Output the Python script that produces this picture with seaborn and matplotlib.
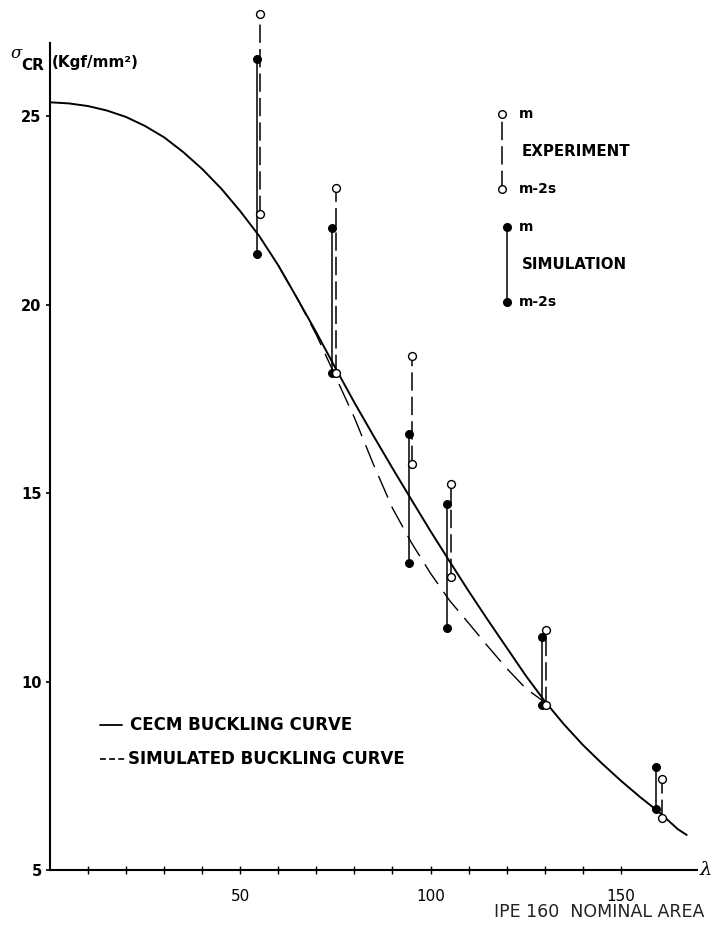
import numpy as np
import pandas as pd
import matplotlib
matplotlib.use("Agg")
import matplotlib.pyplot as plt
import seaborn as sns

# ---------------- data ----------------
# CECM buckling curve
cecm_lambda = [0, 5, 10, 15, 20, 25, 30, 35, 40, 45, 50, 55, 60, 65, 70, 75, 80,
               85, 90, 95, 100, 105, 110, 115, 120, 125, 130, 135, 140, 145, 150,
               155, 160, 165, 167.3]
cecm_sigma = [25.37, 25.34, 25.27, 25.15, 24.98, 24.74, 24.44, 24.05, 23.60, 23.08,
              22.48, 21.82, 21.04, 20.16, 19.26, 18.32, 17.40, 16.52, 15.66, 14.82,
              13.99, 13.19, 12.40, 11.64, 10.90, 10.16, 9.48, 8.87, 8.32, 7.83,
              7.37, 6.94, 6.54, 6.08, 5.93]

# Simulated buckling curve
simcurve_lambda = [60, 65, 70, 75, 80, 85, 90, 95, 100, 105, 110, 115, 120, 125, 130]
simcurve_sigma = [21.04, 20.16, 19.20, 18.10, 17.00, 15.76, 14.60, 13.68, 12.87,
                  12.15, 11.55, 10.94, 10.35, 9.82, 9.45]

# Simulation results (filled circles): mean m and m-2s
sim_lambda = [54.3, 74.1, 94.3, 104.4, 129.3, 159.3]
sim_m = [26.51, 22.03, 16.57, 14.71, 11.18, 7.73]
sim_m2s = [21.34, 18.18, 13.14, 11.42, 9.38, 6.62]

# Experiment results (open circles): mean m and m-2s
exp_lambda = [55.2, 75.1, 95.2, 105.4, 130.4, 160.8]
exp_m = [27.70, 23.09, 18.63, 15.24, 11.37, 7.41]
exp_m2s = [22.40, 18.18, 15.77, 12.77, 9.38, 6.38]

x_ticks = [50, 100, 150]
x_minor = [10, 20, 30, 40, 60, 70, 80, 90, 110, 120, 130, 140]
y_ticks = [5, 10, 15, 20, 25]

# ---------------- figure ----------------
sns.set_theme(style="ticks")
plt.rcParams["font.family"] = ["DejaVu Sans"]
plt.rcParams["text.color"] = "black"
plt.rcParams["xtick.color"] = "black"
plt.rcParams["ytick.color"] = "black"

fig = plt.figure(figsize=(7.13, 9.26), dpi=100)
ax = fig.add_axes([0.0701, 0.0605, 0.9074, 0.932])

cecm_df = pd.DataFrame({"lam": cecm_lambda, "sig": cecm_sigma})
simc_df = pd.DataFrame({"lam": simcurve_lambda, "sig": simcurve_sigma})

sns.lineplot(data=cecm_df, x="lam", y="sig", ax=ax, color="black", lw=1.4,
             sort=False, estimator=None)
sns.lineplot(data=simc_df, x="lam", y="sig", ax=ax, color="black", lw=1.0,
             sort=False, estimator=None, dashes=False)
ax.lines[-1].set_dashes((17, 7))

# vertical ranges
ax.vlines(sim_lambda, sim_m2s, sim_m, colors="black", lw=1.1, zorder=3)
for x, lo, hi in zip(exp_lambda, exp_m2s, exp_m):
    ax.plot([x, x], [lo, hi], color="black", lw=1.1, dashes=(12, 4), zorder=3,
            clip_on=False)

pts_sim = pd.DataFrame({"lam": sim_lambda * 2, "sig": sim_m + sim_m2s})
pts_exp = pd.DataFrame({"lam": exp_lambda * 2, "sig": exp_m + exp_m2s})
sns.scatterplot(data=pts_sim, x="lam", y="sig", ax=ax, s=32, color="black",
                edgecolor="black", linewidth=0.8, zorder=5, legend=False, clip_on=False)
sns.scatterplot(data=pts_exp, x="lam", y="sig", ax=ax, s=32, facecolor="white",
                edgecolor="black", linewidth=1.0, zorder=6, legend=False, clip_on=False)

# axes styling
ax.set_xlim(0, 170)
ax.set_ylim(5, 27.9)
ax.spines["top"].set_visible(False)
ax.spines["right"].set_visible(False)
ax.spines["left"].set_bounds(5, 26.94)
for s in ("left", "bottom"):
    ax.spines[s].set_linewidth(1.5)
    ax.spines[s].set_color("black")

ax.set_xticks(x_ticks)
ax.set_xticks(x_minor, minor=True)
ax.set_yticks(y_ticks)
ax.set_yticklabels([str(v) for v in y_ticks], fontsize=10.5, fontweight="bold")
ax.set_xticklabels([str(v) for v in x_ticks], fontsize=11)
ax.tick_params(axis="x", which="both", direction="inout", length=6, width=1.0,
               pad=11, colors="black")
ax.tick_params(axis="y", direction="out", length=3, width=1.2, pad=3, colors="black")
ax.set_xlabel("")
ax.set_ylabel("")

# axis titles
ax.text(1.004, 0.0, "λ", transform=ax.transAxes, ha="left", va="center",
        fontsize=14, family="DejaVu Serif", style="italic")
fig.text(0.015, 0.9417, "σ", ha="left", va="center", fontsize=12,
         family="DejaVu Serif", style="italic")
fig.text(0.030, 0.9298, "CR", ha="left", va="center", fontsize=11, fontweight="bold")
fig.text(0.072, 0.9320, "(Kgf/mm²)", ha="left", va="center", fontsize=11,
         fontweight="bold")
fig.text(0.988, 0.0151, "IPE 160  NOMINAL AREA", ha="right", va="center",
         fontsize=12.5, color="#222222")

# lower-left legend
T = ax.transAxes
ax.plot([0.0773, 0.1113], [0.168, 0.168], transform=T, color="black", lw=1.3)
ax.text(0.1236, 0.168, "CECM BUCKLING CURVE", transform=T, ha="left", va="center",
        fontsize=12, fontweight="bold")
ax.plot([0.0773, 0.119], [0.1286, 0.1286], transform=T, color="black", lw=1.2,
        dashes=(3.5, 2))
ax.text(0.1206, 0.1286, "SIMULATED BUCKLING CURVE", transform=T, ha="left",
        va="center", fontsize=12, fontweight="bold")

# right legend
ex, sx = 0.6986, 0.7063
ax.plot([ex, ex], [0.789, 0.876], transform=T, color="black", lw=1.1, dashes=(12, 4))
ax.plot([ex, ex], [0.789, 0.876], transform=T, ls="none", marker="o", ms=5.5,
        mfc="white", mec="black", mew=1.0)
ax.plot([sx, sx], [0.658, 0.745], transform=T, color="black", lw=1.1)
ax.plot([sx, sx], [0.658, 0.745], transform=T, ls="none", marker="o", ms=5.5,
        mfc="black", mec="black")
lbl = dict(transform=T, ha="left", va="center", fontweight="bold")
ax.text(0.725, 0.876, "m", fontsize=10, **lbl)
ax.text(0.725, 0.789, "m-2s", fontsize=10, **lbl)
ax.text(0.7295, 0.833, "EXPERIMENT", fontsize=10.8, **lbl)
ax.text(0.725, 0.745, "m", fontsize=10, **lbl)
ax.text(0.725, 0.658, "m-2s", fontsize=10, **lbl)
ax.text(0.7295, 0.701, "SIMULATION", fontsize=10.8, **lbl)

fig.savefig("out.png", dpi=100)
